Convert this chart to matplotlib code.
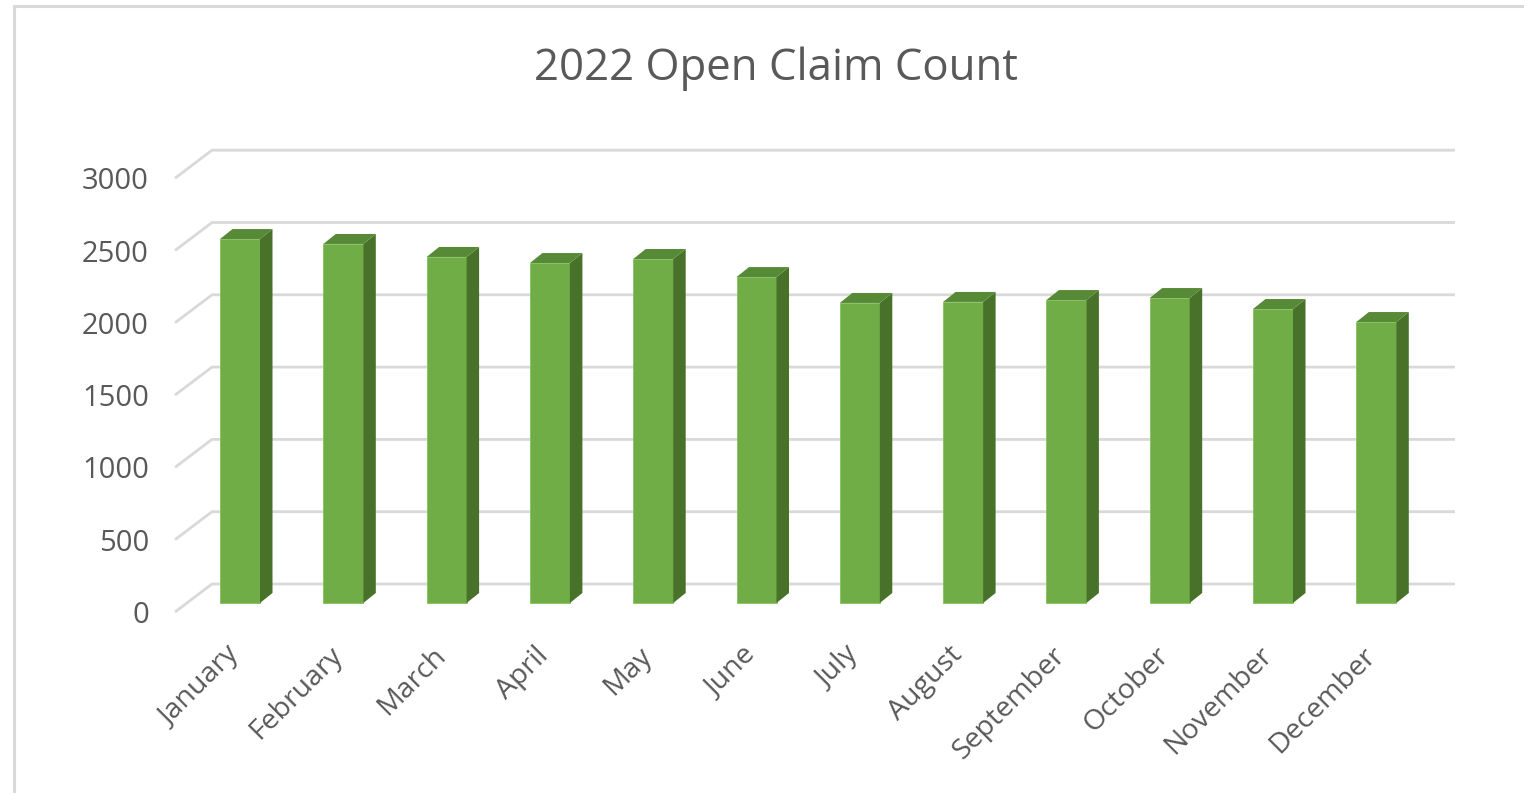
import matplotlib
matplotlib.use("Agg")
import matplotlib.pyplot as plt
from matplotlib.patches import Polygon, Rectangle
from matplotlib.transforms import ScaledTranslation

plt.rcParams['font.family'] = ['Open Sans', 'DejaVu Sans']

months = ['January', 'February', 'March', 'April', 'May', 'June', 'July',
          'August', 'September', 'October', 'November', 'December']
open_claims = [2517, 2483, 2393, 2351, 2379, 2254, 2075, 2082, 2095, 2109, 2033, 1943]
y_ticks = [0, 500, 1000, 1500, 2000, 2500, 3000]

W, H = 1524, 793
fig = plt.figure(figsize=(W / 100, H / 100), dpi=100)

# pixel layout of the pseudo-3d chart (bar front plane)
px_cat = 103.3        # px between categories
x0_px = 240           # centre of first bar
y0_px = 603           # value 0 on bar front plane
px_val = 72.3 / 500   # px per unit value
ax_l, ax_r, ax_t, ax_b = 160, 1480, 120, 640

ax = fig.add_axes([ax_l / W, 1 - ax_b / H, (ax_r - ax_l) / W, (ax_b - ax_t) / H])
ax.set_xlim((ax_l - x0_px) / px_cat, (ax_r - x0_px) / px_cat)
ax.set_ylim((y0_px - ax_b) / px_val, (y0_px - ax_t) / px_val)
for s in ax.spines.values():
    s.set_visible(False)

def cx(px):  # pixel offset -> category units
    return px / px_cat

def cy(px):  # pixel offset -> value units
    return px / px_val

grid_col = '#D9D9D9'
back_dx, back_dy = cx(212 - x0_px), cy(19)
front_dx, front_dy = cx(175 - x0_px), cy(-9)
right_x = cx(1455 - x0_px)
for v in y_ticks:
    ax.plot([front_dx, back_dx, right_x], [v + front_dy, v + back_dy, v + back_dy],
            color=grid_col, lw=2, zorder=1, solid_capstyle='butt')

# bars
bw = cx(40)
ddx, ddy = cx(12.5), cy(10)
front_c, top_c, side_c = '#70AD47', '#578A37', '#48712A'
xs = list(range(len(months)))
ax.bar(xs, open_claims, width=bw, color=front_c, edgecolor='#86C15E', lw=0.6, zorder=3)
for x, v in zip(xs, open_claims):
    r, l = x + bw / 2, x - bw / 2
    ax.add_patch(Polygon([(r, 0), (r + ddx, ddy), (r + ddx, v + ddy), (r, v)],
                         closed=True, fc=side_c, ec='none', zorder=3))
    ax.add_patch(Polygon([(l, v), (r, v), (r + ddx, v + ddy), (l + ddx, v + ddy)],
                         closed=True, fc=top_c, ec='none', zorder=3))

txt_col = '#595959'
ax.set_yticks([v + front_dy for v in y_ticks])
ax.set_yticklabels([str(v) for v in y_ticks])
ax.tick_params(axis='y', length=0, pad=8, labelsize=21, labelcolor=txt_col)

ax.set_xticks(xs)
ax.set_xticklabels(months, rotation=45, ha='right', va='top', rotation_mode='anchor')
ax.tick_params(axis='x', length=0, pad=1, labelsize=20.5, labelcolor=txt_col)
shift = ScaledTranslation(-15 / 100, 0, fig.dpi_scale_trans)
for lab in ax.get_xticklabels():
    lab.set_transform(lab.get_transform() + shift)

fig.text(776 / W, 1 - 69 / H, '2022 Open Claim Count', ha='center', va='center',
         fontsize=31.5, color=txt_col)

# chart frame (right/bottom edges lie outside the screenshot)
fig.patches.append(Rectangle((13.5 / W, -0.05), 1.1, 1 - 5.5 / H + 0.05,
                             transform=fig.transFigure, fill=False,
                             ec=grid_col, lw=2.2))

fig.savefig('out.png', dpi=100)
